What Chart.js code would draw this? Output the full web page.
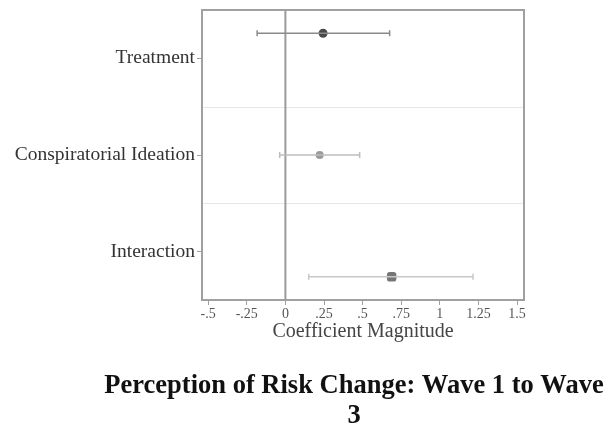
<!DOCTYPE html>
<html>
<head>
<meta charset="utf-8">
<script src="https://cdn.jsdelivr.net/npm/chart.js@4.4.0/dist/chart.umd.min.js"></script>
<style>
  body { margin: 0; background: #fff; }
  #wrap { width: 612px; height: 429px; position: relative; }
</style>
</head>
<body>
<div id="wrap"><canvas id="coefChart"></canvas></div>
<script>
// coeficientes
const categories = ["Treatment", "Conspiratorial Ideation", "Interaction"];
const categoryPos = [1, 2, 3];
const estimates = [0.244, 0.222, 0.688];
const lowerCI = [-0.183, -0.037, 0.151];
const upperCI = [0.675, 0.481, 1.215];
const pointRows = [0.74, 2.0, 3.26];
const separators = [1.5, 2.5];
const xTickValues = [-0.5, -0.25, 0, 0.25, 0.5, 0.75, 1, 1.25, 1.5];
const xTickLabels = ["-.5", "-.25", "0", ".25", ".5", ".75", "1", "1.25", "1.5"];
const titleLines = ["Perception of Risk Change: Wave 1 to Wave", "3"];

const pointColors = ["#4a4a4a", "#9a9a9a", "#767676"];
const barColors = ["#8a8a8a", "#bdbdbd", "#c8c8c8"];
const pointStyles = ["circle", "circle", "rectRounded"];
const pointSizes = [4.5, 4, 5.5];

const serif = "'Liberation Serif', 'Times New Roman', serif";

// barras de error: una linea por fila
const errorSets = categories.map((cat, i) => ({
    type: "line",
    data: [{ x: lowerCI[i], y: pointRows[i] }, { x: upperCI[i], y: pointRows[i] }],
    borderColor: barColors[i],
    borderWidth: 1.5,
    pointStyle: "line",
    rotation: 90,
    pointRadius: 3,
    pointBorderColor: barColors[i],
    pointBorderWidth: 1.5,
    fill: false,
}));

const pointSets = categories.map((cat, i) => ({
    type: "scatter",
    label: cat,
    data: [{ x: estimates[i], y: pointRows[i] }],
    pointStyle: pointStyles[i],
    pointRadius: pointSizes[i],
    backgroundColor: pointColors[i],
    borderColor: pointColors[i],
    borderWidth: 0,
}));

// marco, linea del cero, separadores y titulo
const extras = {
    id: "extras",
    beforeDatasetsDraw(chart) {
        const { ctx, chartArea: a, scales } = chart;
        ctx.save();
        ctx.strokeStyle = "#e6e6e6";
        ctx.lineWidth = 1;
        separators.forEach(v => {
            const y = Math.round(scales.y.getPixelForValue(v)) + 0.5;
            ctx.beginPath();
            ctx.moveTo(a.left, y);
            ctx.lineTo(a.right, y);
            ctx.stroke();
        });
        const x0 = scales.x.getPixelForValue(0);
        ctx.strokeStyle = "#9a9a9a";
        ctx.lineWidth = 2;
        ctx.beginPath();
        ctx.moveTo(x0, a.top);
        ctx.lineTo(x0, a.bottom);
        ctx.stroke();
        ctx.restore();
    },
    afterDraw(chart) {
        const { ctx, chartArea: a } = chart;
        ctx.save();
        ctx.strokeStyle = "#a0a0a0";
        ctx.lineWidth = 2;
        ctx.strokeRect(a.left, a.top, a.right - a.left, a.bottom - a.top);
        ctx.fillStyle = "#111";
        ctx.font = "bold 26.5px " + serif;
        ctx.textAlign = "center";
        ctx.textBaseline = "middle";
        const cx = (a.left + a.right) / 2 - 9;
        titleLines.forEach((t, i) => ctx.fillText(t, cx, 386 + i * 30));
        ctx.restore();
    },
};

new Chart(document.getElementById("coefChart"), {
    data: { datasets: [...errorSets, ...pointSets] },
    options: {
        responsive: true,
        maintainAspectRatio: false,
        animation: false,
        layout: { padding: { top: 10, right: 88, bottom: 85, left: 0 } },
        plugins: {
            legend: { display: false },
            tooltip: { enabled: false },
        },
        scales: {
            x: {
                type: "linear",
                min: -0.54,
                max: 1.545,
                afterBuildTicks: (scale) => {
                    scale.ticks = xTickValues.map(v => ({ value: v }));
                },
                afterFit: (scale) => { scale.height = 44; },
                border: { display: false },
                grid: { drawOnChartArea: false, tickLength: 5, tickColor: "#a0a0a0" },
                ticks: {
                    padding: 1,
                    color: "#555",
                    font: { family: serif, size: 14 },
                    callback: (v, i) => xTickLabels[i],
                    maxRotation: 0,
                },
                title: {
                    display: true,
                    text: "Coefficient Magnitude",
                    color: "#444",
                    font: { family: serif, size: 20 },
                    padding: { top: 0, bottom: 0 },
                },
            },
            y: {
                type: "linear",
                reverse: true,
                min: 0.5,
                max: 3.5,
                afterBuildTicks: (scale) => {
                    scale.ticks = categoryPos.map(v => ({ value: v }));
                },
                afterFit: (scale) => {
                    scale.width = 202;
                    scale.paddingTop = 0;
                    scale.paddingBottom = 0;
                },
                border: { display: false },
                grid: { drawOnChartArea: false, tickLength: 5, tickColor: "#a0a0a0" },
                ticks: {
                    padding: 2,
                    color: "#333",
                    font: { family: serif, size: 19.5 },
                    callback: (v, i) => categories[i],
                },
            },
        },
    },
    plugins: [extras],
});
</script>
</body>
</html>
